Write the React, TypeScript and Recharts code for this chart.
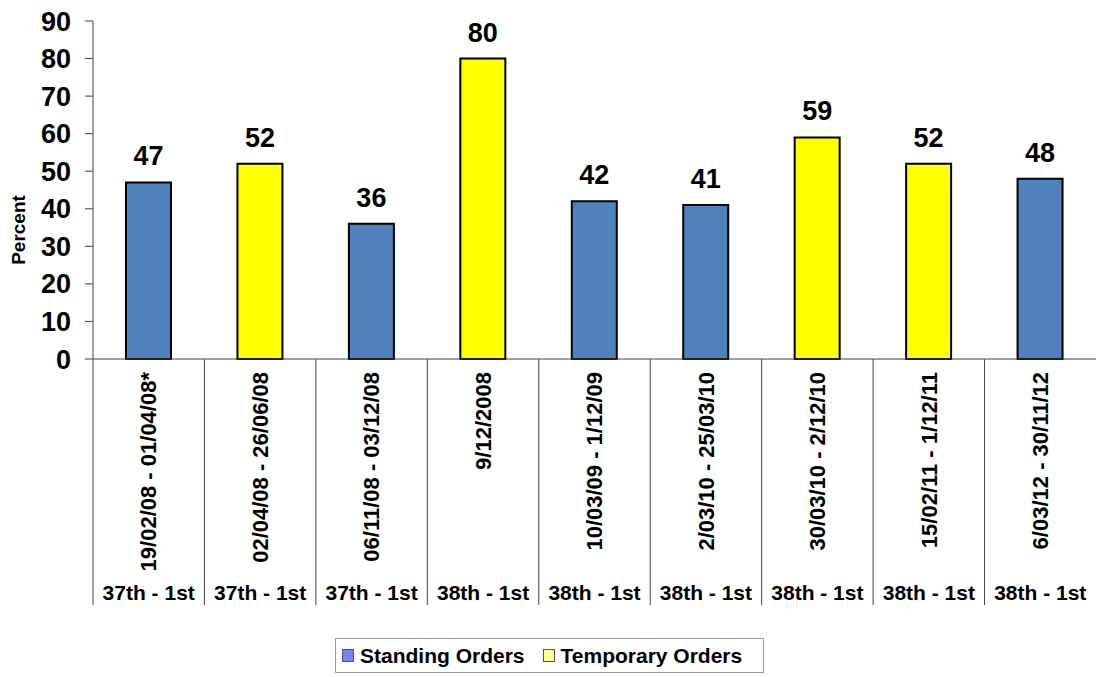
import React from "react";
import { Bar, BarChart, Cell, LabelList, XAxis, YAxis } from "recharts";

const periods = [
  "19/02/08 - 01/04/08*",
  "02/04/08 - 26/06/08",
  "06/11/08 - 03/12/08",
  "9/12/2008",
  "10/03/09 - 1/12/09",
  "2/03/10 - 25/03/10",
  "30/03/10 - 2/12/10",
  "15/02/11 - 1/12/11",
  "6/03/12 - 30/11/12",
];
const sessions = [
  "37th - 1st",
  "37th - 1st",
  "37th - 1st",
  "38th - 1st",
  "38th - 1st",
  "38th - 1st",
  "38th - 1st",
  "38th - 1st",
  "38th - 1st",
];
const percents = [47, 52, 36, 80, 42, 41, 59, 52, 48];
// 0 = standing orders, 1 = temporary orders
const orderType = [0, 1, 0, 1, 0, 0, 1, 1, 0];

const seriesNames = ["Standing Orders", "Temporary Orders"];
const barColors = ["#4F81BD", "#FFFF00"];
const legendColors = ["#8080FF", "#FFFF99"];
const yTicks = [0, 10, 20, 30, 40, 50, 60, 70, 80, 90];

const data = periods.map((p, i) => ({
  period: p,
  session: sessions[i],
  value: percents[i],
  type: orderType[i],
}));

const FONT = "Arial, 'Liberation Sans', sans-serif";
const AXIS_COLOR = "#444";
const X_AXIS_HEIGHT = 246;

const CategoryTick = (props: any) => {
  const { x, y, payload, index } = props;
  const half = payload && payload.offset ? payload.offset : 111.4 / 2;
  const row = data[index] || { period: payload.value, session: "" };
  return (
    <g>
      <line x1={x - half} x2={x - half} y1={y} y2={y + X_AXIS_HEIGHT} stroke={AXIS_COLOR} strokeWidth={1} />
      <text
        x={0}
        y={0}
        dy="0.35em"
        transform={`translate(${x},${y + 13}) rotate(-90)`}
        textAnchor="end"
        fontFamily={FONT}
        fontSize={22}
        fontWeight="bold"
        fill="#000"
      >
        {row.period}
      </text>
      <text x={x} y={y + 241} textAnchor="middle" fontFamily={FONT} fontSize={21} fontWeight="bold" fill="#000">
        {row.session}
      </text>
    </g>
  );
};

export default function App() {
  return (
    <div
      style={{
        position: "absolute",
        left: 0,
        top: 0,
        width: 1096,
        height: 677,
        overflow: "hidden",
        background: "#fff",
        fontFamily: FONT,
      }}
    >
      <BarChart width={1096} height={677} data={data} margin={{ top: 21, right: 0, left: 0, bottom: 72 }}>
        <XAxis
          dataKey="period"
          interval={0}
          height={X_AXIS_HEIGHT}
          tickLine={false}
          tickSize={0}
          tickMargin={0}
          axisLine={{ stroke: AXIS_COLOR }}
          tick={<CategoryTick />}
        />
        <YAxis
          width={93}
          domain={[0, 90]}
          ticks={yTicks}
          interval={0}
          tickSize={8}
          tickMargin={14}
          axisLine={{ stroke: AXIS_COLOR }}
          tickLine={{ stroke: AXIS_COLOR }}
          tick={{ fill: "#000", fontSize: 27, fontWeight: "bold", fontFamily: FONT }}
          label={{
            content: () => (
              <text
                transform="translate(18,230) rotate(-90)"
                textAnchor="middle"
                dy="0.35em"
                fontFamily={FONT}
                fontSize={19}
                fontWeight="bold"
                fill="#000"
              >
                Percent
              </text>
            ),
          }}
        />
        <Bar dataKey="value" barSize={45} stroke="#000" strokeWidth={2} isAnimationActive={false}>
          {data.map((d, i) => (
            <Cell key={`cell-${i}`} fill={barColors[d.type]} />
          ))}
          <LabelList
            dataKey="value"
            position="top"
            offset={17}
            style={{ fill: "#000", fontSize: 27, fontWeight: "bold", fontFamily: FONT }}
          />
        </Bar>
      </BarChart>
      <div
        style={{
          position: "absolute",
          left: 335,
          top: 638,
          width: 429,
          height: 35,
          border: "1px solid #999",
          display: "flex",
          alignItems: "center",
          paddingLeft: 6,
          boxSizing: "border-box",
        }}
      >
        {seriesNames.map((name, i) => (
          <div key={name} style={{ display: "flex", alignItems: "center", marginRight: 18 }}>
            <span
              style={{
                display: "inline-block",
                width: 10,
                height: 11,
                background: legendColors[i],
                border: "1px solid #555",
                marginRight: 6,
              }}
            />
            <span style={{ fontSize: 21, fontWeight: "bold", color: "#000" }}>{name}</span>
          </div>
        ))}
      </div>
    </div>
  );
}
